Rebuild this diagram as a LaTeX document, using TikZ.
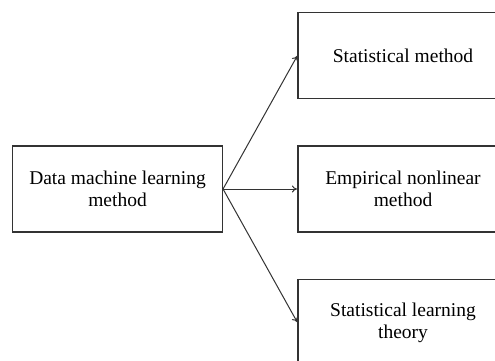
\documentclass[tikz,border=0pt]{standalone}
\usepackage{fontspec}
\setmainfont{Liberation Serif}
\usetikzlibrary{positioning,arrows.meta}

\begin{document}
\begin{tikzpicture}[shorten >=0.5pt,node distance=133.5pt and 285.5pt,on grid,
    box/.style={draw=black!80, line width=1.1pt, minimum width=210pt, minimum height=86pt,
      align=center, font=\fontsize{19.5}{22}\selectfont},
    every edge/.style={draw=black!80, line width=1pt, -{To[length=5pt,width=7pt]}}]
			\useasboundingbox (0,0) rectangle (495pt,-360pt);
			\node[box] (dml) at (117.5pt,-189pt) {Data machine learning\\method};
			\node[box] (enm) [right=of dml] {Empirical nonlinear\\method};
			\node[box] (stm) [above=of enm] {Statistical method};
			\node[box] (slt) [below=of enm] {Statistical learning\\theory};
			\path
			(dml.east) edge (stm.west)
			edge (enm.west)
			edge (slt.west);
		\end{tikzpicture}
\end{document}
